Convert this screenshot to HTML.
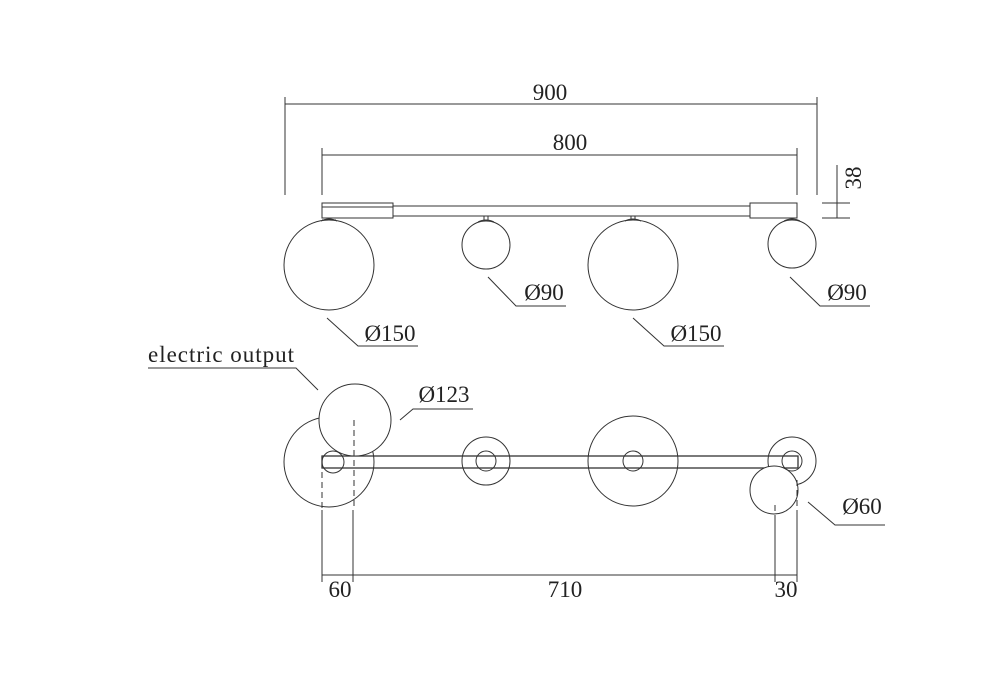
<!DOCTYPE html>
<html><head><style>body{margin:0;background:#fff}svg{display:block}text{font-family:"Liberation Serif",serif;font-size:23px;fill:#222}</style></head>
<body>
<svg width="1000" height="700" viewBox="0 0 1000 700" xmlns="http://www.w3.org/2000/svg">
<g stroke="#333" stroke-width="1" fill="none">
<line x1="285" y1="97" x2="285" y2="195"/><line x1="817" y1="97" x2="817" y2="195"/>
<line x1="285" y1="104" x2="817" y2="104"/>
<line x1="322" y1="148" x2="322" y2="195"/><line x1="797" y1="148" x2="797" y2="195"/>
<line x1="322" y1="155" x2="797" y2="155"/>
<line x1="837" y1="165" x2="837" y2="218"/>
<line x1="822" y1="203" x2="850" y2="203"/><line x1="822" y1="218" x2="850" y2="218"/>
<rect x="393" y="206" width="357" height="10"/>
<rect x="322" y="203" width="71" height="15"/>
<line x1="322" y1="207" x2="393" y2="207"/>
<rect x="750" y="203" width="47" height="15"/>
<circle cx="329" cy="265" r="45"/>
<circle cx="486" cy="245" r="24"/>
<circle cx="633" cy="265" r="45"/>
<circle cx="792" cy="244" r="24"/>
<path d="M322 220 h14 M484 216 v5 M488 216 v5 M631 216 v4 M635 216 v4"/>
<path d="M478 222 Q486 218 494 222 M321 221 Q329 217 337 221 M625 221 Q633 217 641 221 M784 221 Q792 217 800 221"/>
<polyline points="488,277 516,306 566,306"/>
<polyline points="327,318 358,346 418,346"/>
<polyline points="633,318 664,346 724,346"/>
<polyline points="790,277 820,306 870,306"/>
<circle cx="329" cy="462" r="45"/>
<circle cx="333" cy="462" r="11"/>
<circle cx="486" cy="461" r="24"/><circle cx="486" cy="461" r="10"/>
<circle cx="633" cy="461" r="45"/><circle cx="633" cy="461" r="10"/>
<circle cx="792" cy="461" r="24"/><circle cx="792" cy="461" r="10"/>
<rect x="322" y="456" width="476" height="12" stroke-width="1.3"/>
<circle cx="355" cy="420" r="36" fill="#fff"/>
<circle cx="774" cy="490" r="24" fill="#fff"/>
<g stroke-dasharray="6,4">
<line x1="322" y1="462" x2="322" y2="510"/>
<line x1="354" y1="420" x2="354" y2="510"/>
<line x1="775" y1="505" x2="775" y2="515"/>
<line x1="797" y1="480" x2="797" y2="515"/>
</g>
<line x1="322" y1="510" x2="322" y2="582"/><line x1="353" y1="510" x2="353" y2="582"/>
<line x1="775" y1="515" x2="775" y2="582"/><line x1="797" y1="515" x2="797" y2="582"/>
<line x1="322" y1="575" x2="797" y2="575"/>
<polyline points="148,368 296,368 318,390"/>
<polyline points="400,420 413,409 473,409"/>
<polyline points="808,502 835,525 885,525"/>
</g>
<text x="550" y="100" text-anchor="middle">900</text>
<text x="570" y="150" text-anchor="middle">800</text>
<text x="0" y="0" transform="translate(861,178) rotate(-90)" text-anchor="middle">38</text>
<text x="544" y="300" text-anchor="middle">Ø90</text>
<text x="847" y="300" text-anchor="middle">Ø90</text>
<text x="390" y="341" text-anchor="middle">Ø150</text>
<text x="696" y="341" text-anchor="middle">Ø150</text>
<text x="148" y="362" textLength="146" lengthAdjust="spacing">electric output</text>
<text x="444" y="402" text-anchor="middle">Ø123</text>
<text x="862" y="514" text-anchor="middle">Ø60</text>
<text x="340" y="597" text-anchor="middle">60</text>
<text x="565" y="597" text-anchor="middle">710</text>
<text x="786" y="597" text-anchor="middle">30</text>
</svg>
</body></html>
